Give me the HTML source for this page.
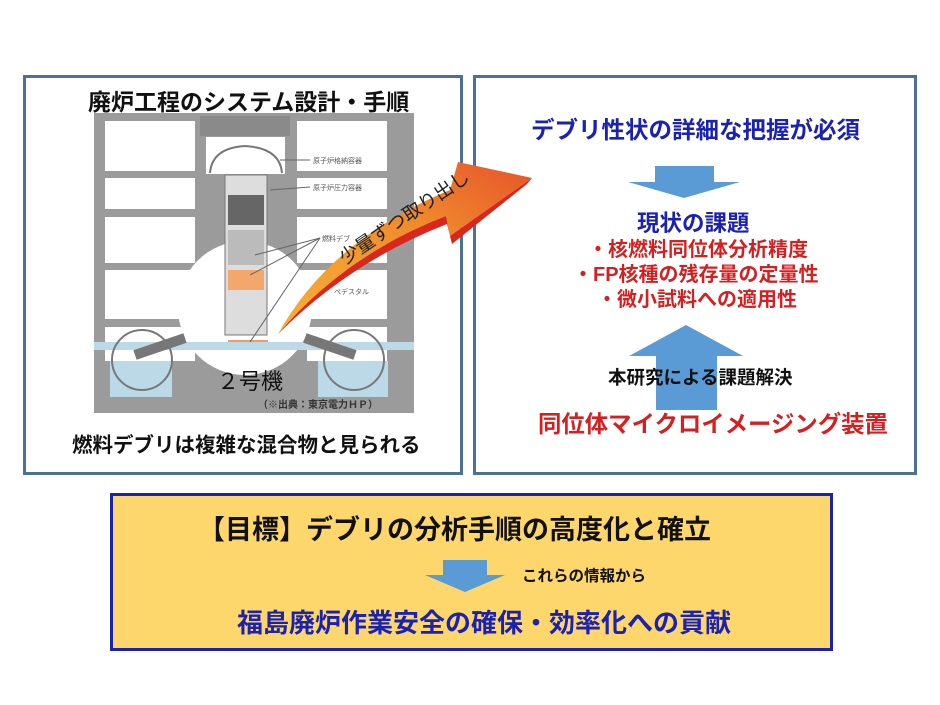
<!DOCTYPE html>
<html><head><meta charset="utf-8"><style>
body{margin:0;width:940px;height:705px;background:#fff;position:relative;overflow:hidden;font-family:"Liberation Sans","Noto Sans CJK JP",sans-serif}
.box{position:absolute;box-sizing:border-box}
.t{position:absolute;white-space:nowrap;font-weight:bold}
</style></head><body>
<div class="box" style="left:23px;top:75px;width:440px;height:400px;border:3px solid #4d7195"></div>
<div class="box" style="left:473px;top:75px;width:444px;height:400px;border:3px solid #4d7195"></div>
<div class="box" style="left:110px;top:493px;width:723px;height:158px;border:3px solid #1c22b0;background:#fdd66c"></div>

<svg width="940" height="705" style="position:absolute;left:0;top:0">
<defs>
<linearGradient id="og" x1="0" y1="1" x2="1" y2="0">
<stop offset="0" stop-color="#f7b23a"/><stop offset="0.6" stop-color="#f08a2c"/><stop offset="1" stop-color="#e6522a"/></linearGradient>
</defs>
<rect x="94" y="113" width="320" height="300" fill="#9b9b9b"/>
<g fill="#fff">
<rect x="105" y="121" width="90" height="50"/><rect x="105" y="178" width="90" height="31"/><rect x="105" y="217" width="90" height="46"/><rect x="105" y="270" width="90" height="49"/><rect x="105" y="327" width="90" height="34"/>
<rect x="297" y="121" width="90" height="50"/><rect x="297" y="178" width="90" height="31"/><rect x="297" y="217" width="90" height="46"/><rect x="297" y="270" width="90" height="49"/><rect x="307" y="327" width="80" height="34"/>
<rect x="206" y="137" width="79" height="37"/>
<circle cx="245" cy="308" r="67"/>
</g>
<rect x="200" y="116" width="90" height="20" fill="#8a8a8a"/>
<path d="M210,173 Q212,148 245,146 Q280,148 282,173" fill="#fff" stroke="#777" stroke-width="2"/>
<rect x="225" y="175" width="42" height="160" fill="#ddd" stroke="#777"/>
<rect x="228" y="195" width="36" height="30" fill="#666"/>
<rect x="228" y="230" width="36" height="35" fill="#bbb"/>
<rect x="228" y="270" width="36" height="20" fill="#f4a76a"/>
<rect x="228" y="340" width="40" height="8" fill="#f09a66"/>
<rect x="94" y="342" width="320" height="8" fill="#bcd9e8"/>
<rect x="110" y="361" width="62" height="36" fill="#bcd9e8"/>
<rect x="318" y="361" width="70" height="36" fill="#bcd9e8"/>
<circle cx="142" cy="360" r="30" fill="none" stroke="#777" stroke-width="2"/>
<circle cx="354" cy="360" r="30" fill="none" stroke="#777" stroke-width="2"/>
<path d="M135,355 L185,338 M355,355 L305,338" stroke="#777" stroke-width="10"/>
<g stroke="#666" stroke-width="1" fill="none"><line x1="280" y1="160" x2="310" y2="160"/><line x1="270" y1="190" x2="310" y2="187"/><line x1="255" y1="255" x2="320" y2="238"/><line x1="250" y1="275" x2="320" y2="238"/><line x1="250" y1="342" x2="320" y2="238"/></g>
<g font-size="7" fill="#555" font-family="Liberation Sans,Noto Sans CJK JP,sans-serif"><text x="313" y="163">原子炉格納容器</text><text x="313" y="190">原子炉圧力容器</text><text x="322" y="241">燃料デブ</text><text x="334" y="294">ペデスタル</text></g>

<path d="M278,334 Q330,240 450,190 L458,162 L532,178 L450,236 L446,216 Q345,255 278,334 Z" fill="url(#og)"/>
<path d="M278,334 Q345,255 446,216 L450,236 L532,178 L527,184 L452,244 L447,224 Q350,262 278,334 Z" fill="#d8281e"/>
<text transform="translate(345,265) rotate(-34)" font-size="19" font-family="Liberation Sans,Noto Sans CJK JP,sans-serif" fill="#222">少量ずつ取り出し</text>

<g fill="#5b9bd5">
<path d="M655,166 H714 V182 H740 L684,198 L628,182 H655 Z"/>
<path d="M656,410 H717 V356 H743 L686,325 L629,356 H656 Z"/>
<path d="M443,560 H487 V575 H505 L465,592 L425,575 H443 Z"/>
</g>
</svg>

<div class="t" style="left:88px;top:83px;font-size:23px;color:#111">廃炉工程のシステム設計・手順</div>
<div class="t" style="left:217px;top:364px;font-size:22px;font-weight:normal;color:#111">２号機</div>
<div class="t" style="left:258px;top:396px;font-size:10px;color:#333">（※出典：東京電力ＨＰ）</div>
<div class="t" style="left:72px;top:428px;font-size:20.5px;color:#111">燃料デブリは複雑な混合物と見られる</div>

<div class="t" style="left:531px;top:111px;font-size:23.5px;color:#1c22b0">デブリ性状の詳細な把握が必須</div>
<div class="t" style="left:637px;top:206px;font-size:22.5px;color:#1c22b0">現状の課題</div>
<div class="t" style="left:588px;top:233px;font-size:20px;color:#d42020">・核燃料同位体分析精度</div>
<div class="t" style="left:573px;top:258px;font-size:20px;color:#d42020">・FP核種の残存量の定量性</div>
<div class="t" style="left:597px;top:283px;font-size:20px;color:#d42020">・微小試料への適用性</div>
<div class="t" style="left:608px;top:364px;font-size:18.5px;color:#111">本研究による課題解決</div>
<div class="t" style="left:538px;top:405px;font-size:23.4px;color:#d42020">同位体マイクロイメージング装置</div>

<div class="t" style="left:198px;top:508px;font-size:27px;color:#111">【目標】デブリの分析手順の高度化と確立</div>
<div class="t" style="left:522px;top:564px;font-size:15.5px;color:#111">これらの情報から</div>
<div class="t" style="left:237px;top:603px;font-size:26px;color:#1c22b0">福島廃炉作業安全の確保・効率化への貢献</div>
</body></html>
